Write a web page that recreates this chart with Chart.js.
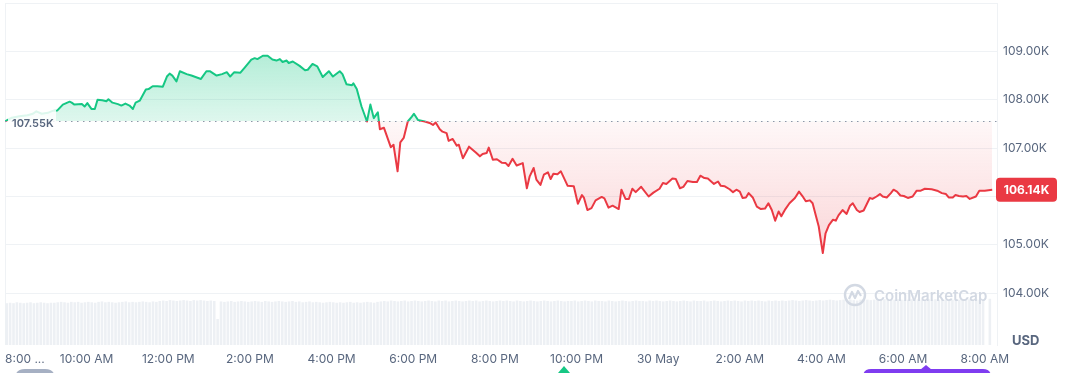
<!DOCTYPE html>
<html>
<head>
<meta charset="utf-8">
<script src="https://cdn.jsdelivr.net/npm/chart.js@4.4.1/dist/chart.umd.min.js"></script>
<style>
  html, body { margin: 0; padding: 0; background: #fff; }
  #wrap { position: relative; width: 1069px; height: 373px; }
</style>
</head>
<body>
<div id="wrap"><canvas id="c"></canvas></div>
<script>
// ---- data (minutes since 8:00 AM, 29 May) ----
const BASE = 107553;   // opening price of the 24h window (dotted line)
const LAST = 106140;   // latest price

const TIMES = [
  0,10,21,33,41,46,54,63,70,77,
  85,95,98,102,113,117,121,127,132,136,
  143,149,152,158,166,171,177,183,188,192,
  198,207,211,217,224,232,238,242,246,252,
  257,267,274,282,288,296,301,311,319,326,
  331,337,346,352,362,367,371,379,386,393,
  399,404,408,414,417,423,433,441,445,452,
  459,467,476,482,492,496,502,510,512,517,
  524,532,537,542,548,551,557,567,571,577,
  581,586,592,598,601,607,617,624,629,633,
  639,643,649,652,658,664,667,673,682,692,
  698,702,708,711,717,723,730,736,740,746,
  752,761,767,771,777,781,787,792,798,802,
  806,812,817,827,836,842,848,851,856,862,
  868,877,881,887,893,902,906,912,917,922,
  927,935,946,953,962,967,972,981,986,992,
  997,1003,1011,1017,1022,1028,1033,1042,1048,1052,
  1058,1065,1070,1075,1080,1084,1089,1093,1099,1105,
  1111,1117,1122,1127,1132,1137,1141,1147,1153,1161,
  1167,1172,1177,1183,1187,1192,1196,1199,1202,1206,
  1211,1217,1221,1225,1231,1237,1242,1246,1252,1256,
  1262,1271,1275,1281,1286,1290,1296,1302,1306,1311,
  1316,1321,1327,1334,1340,1346,1352,1362,1370,1377,
  1383,1387,1393,1397,1402,1408,1413,1418,1427,1432,
  1440,1451
];

const PRICES = [
  107553,107630,107660,107680,107710,107760,107710,107730,107770,107780,
  107900,107960,107940,107900,107910,107860,107930,107810,107810,108000,
  107990,107970,108010,107940,107910,107880,107920,107880,107810,107940,
  107980,108210,108220,108280,108280,108270,108480,108540,108500,108380,
  108590,108530,108500,108460,108430,108590,108590,108500,108530,108570,
  108480,108570,108560,108660,108830,108860,108840,108910,108910,108830,
  108810,108840,108780,108810,108760,108790,108700,108610,108620,108740,
  108690,108470,108590,108480,108590,108530,108320,108300,108340,108220,
  107860,107550,107900,107620,107740,107390,107420,107020,107070,106520,
  107120,107210,107550,107650,107710,107580,107550,107520,107480,107530,
  107390,107340,107310,107150,107190,107050,107070,106790,107030,106910,
  106830,106880,106900,107010,106760,106770,106700,106690,106630,106780,
  106640,106690,106170,106410,106590,106350,106240,106450,106500,106360,
  106470,106460,106520,106220,106210,105850,106030,105970,105720,105760,
  105920,105990,105960,105770,105810,105740,106140,105950,105950,106160,
  106090,106200,106000,106080,106160,106280,106260,106370,106360,106170,
  106200,106320,106300,106300,106430,106380,106370,106260,106310,106220,
  106210,106150,106090,106140,106100,105970,105980,106070,105980,105790,
  105740,105750,105860,105720,105500,105690,105590,105740,105860,105970,
  106100,106010,105900,105920,105860,105590,105380,105100,104830,105240,
  105410,105520,105500,105610,105720,105640,105810,105860,105720,105680,
  105710,105970,105950,106000,106050,106000,105980,106070,106140,106100,
  106020,106010,105970,106000,106120,106120,106160,106150,106120,106070,
  106050,105980,105980,106030,106010,106000,106010,105950,106000,106120,
  106120,106140
];

// 5-minute volume bars (relative units), first bar centred at 2.5 min
const VOL_START = 2.5;
const VOL_STEP = 5;
const VOLUMES = [
  95,96,95,97,96,95,96,97,95,96,97,96,95,96,96,97,98,97,96,98,
  97,98,96,97,98,97,96,98,99,97,98,97,96,97,98,99,97,98,97,98,
  99,98,97,99,98,100,101,100,102,101,100,101,102,101,100,102,101,102,101,100,
  101,100,59,99,98,99,100,98,99,100,99,98,99,100,99,98,100,99,98,99,
  100,99,98,99,100,98,99,97,98,99,97,98,97,96,97,98,97,96,97,96,
  97,98,96,97,96,97,98,97,96,98,99,100,99,101,100,99,100,101,99,100,
  101,100,99,100,101,100,99,101,100,101,99,100,101,100,99,100,101,100,101,99,
  100,101,100,99,100,101,100,101,100,99,101,100,99,100,101,100,99,100,101,100,
  99,100,101,100,99,100,100,101,99,100,101,100,99,101,100,100,99,101,100,99,
  100,101,100,99,100,101,100,100,99,101,100,101,100,99,100,101,100,99,100,101,
  100,99,101,100,100,101,99,100,101,100,99,100,101,100,101,100,99,101,100,101,
  100,101,100,99,101,100,101,100,101,100,101,102,101,100,101,102,101,100,101,102,
  101,102,103,102,101,102,103,102,103,102,101,103,102,103,102,103,102,103,104,103,
  102,103,104,103,102,103,104,103,104,103,102,104,103,104,103,104,103,104,103,104,
  103,104,103,104,103,104,103,104,0,105
];

const X_TICKS = [0,120,240,360,480,600,720,840,960,1080,1200,1320,1440];
const X_LABELS = ['8:00 ...','10:00 AM','12:00 PM','2:00 PM','4:00 PM','6:00 PM','8:00 PM',
                  '10:00 PM','30 May','2:00 AM','4:00 AM','6:00 AM','8:00 AM'];
const Y_TICKS = [104000,105000,106000,107000,108000,109000,110000];
const Y_LABELS = ['104.00K','105.00K','106.00K','107.00K','108.00K','109.00K',''];

const X_MIN = 0, X_MAX = 1458;
const Y_MIN = 102930, Y_MAX = 110000;

// ---- styles ----
const GREEN = '#16c784';
const RED = '#ea3943';
const GRID = '#eff2f5';
const TEXT = '#58667e';
const FONT = 'Inter, "Noto Sans", sans-serif';

Chart.defaults.font.family = FONT;
Chart.defaults.font.size = 12;
Chart.defaults.color = TEXT;

function lineGrad(chart) {
  const {ctx, chartArea: a, scales} = chart;
  if (!a) return GREEN;
  const by = scales.y.getPixelForValue(BASE);
  const f = Math.min(1, Math.max(0, (by - a.top) / (a.bottom - a.top)));
  const g = ctx.createLinearGradient(0, a.top, 0, a.bottom);
  g.addColorStop(0, GREEN); g.addColorStop(f, GREEN);
  g.addColorStop(f, RED); g.addColorStop(1, RED);
  return g;
}
function fillOpt(chart) {
  const {ctx, chartArea: a, scales} = chart;
  if (!a) return {target: {value: BASE}, above: 'rgba(22,199,132,0.25)', below: 'rgba(234,57,67,0.12)'};
  const by = scales.y.getPixelForValue(BASE);
  const gu = ctx.createLinearGradient(0, a.top, 0, by);
  gu.addColorStop(0, 'rgba(22,199,132,0.46)');
  gu.addColorStop(1, 'rgba(22,199,132,0.14)');
  const gd = ctx.createLinearGradient(0, by, 0, a.bottom);
  gd.addColorStop(0, 'rgba(234,57,67,0.04)');
  gd.addColorStop(1, 'rgba(234,57,67,0.32)');
  return {target: {value: BASE}, above: gu, below: gd};
}

function rr(ctx, x, y, w, h, r) {
  ctx.beginPath();
  ctx.moveTo(x + r, y);
  ctx.lineTo(x + w - r, y); ctx.quadraticCurveTo(x + w, y, x + w, y + r);
  ctx.lineTo(x + w, y + h - r); ctx.quadraticCurveTo(x + w, y + h, x + w - r, y + h);
  ctx.lineTo(x + r, y + h); ctx.quadraticCurveTo(x, y + h, x, y + h - r);
  ctx.lineTo(x, y + r); ctx.quadraticCurveTo(x, y, x + r, y);
  ctx.closePath();
}

const overlay = {
  id: 'overlay',
  afterDatasetsDraw(chart) {
    const {ctx, chartArea: a, scales: {y}} = chart;
    ctx.save();
    // dotted base line
    const by = Math.round(y.getPixelForValue(BASE)) + 0.5;
    ctx.strokeStyle = '#8d97a8';
    ctx.lineWidth = 1;
    ctx.setLineDash([1.5, 4.5]);
    ctx.beginPath(); ctx.moveTo(a.left, by); ctx.lineTo(a.right, by); ctx.stroke();
    ctx.setLineDash([]);
    // watermark
    const wx = a.right - 142, wy = a.bottom - 50;
    ctx.strokeStyle = '#d3d9e3';
    ctx.lineWidth = 2.4;
    ctx.beginPath(); ctx.arc(wx, wy, 10, 0, Math.PI * 2); ctx.stroke();
    ctx.lineWidth = 2.2;
    ctx.lineJoin = 'round';
    ctx.beginPath();
    ctx.moveTo(wx - 6, wy + 4);
    ctx.lineTo(wx - 3, wy - 3);
    ctx.lineTo(wx, wy + 3);
    ctx.lineTo(wx + 3, wy - 4);
    ctx.lineTo(wx + 6, wy + 1);
    ctx.stroke();
    ctx.fillStyle = '#d3d9e3';
    ctx.font = '600 15px ' + FONT;
    ctx.textAlign = 'left';
    ctx.textBaseline = 'middle';
    ctx.fillText('CoinMarketCap', wx + 19, wy + 1);
    // base price label
    ctx.fillStyle = 'rgba(255,255,255,0.85)';
    ctx.fillRect(a.left + 3, by - 12, 48, 24);
    ctx.fillStyle = TEXT;
    ctx.font = '600 11px ' + FONT;
    ctx.fillText((BASE / 1000).toFixed(2) + 'K', a.left + 7, by + 2);
    ctx.restore();
  },
  afterDraw(chart) {
    const {ctx, chartArea: a, scales: {y}, height} = chart;
    ctx.save();
    // current price tag
    const py = y.getPixelForValue(LAST);
    ctx.fillStyle = RED;
    rr(ctx, a.right - 1, py - 12, 61, 24, 4); ctx.fill();
    ctx.fillStyle = '#fff';
    ctx.font = 'bold 12px ' + FONT;
    ctx.textAlign = 'center';
    ctx.textBaseline = 'middle';
    ctx.fillText((LAST / 1000).toFixed(2) + 'K', a.right + 29.5, py + 0.5);
    // currency
    ctx.fillStyle = TEXT;
    ctx.font = 'bold 13px ' + FONT;
    ctx.textAlign = 'left';
    ctx.fillText('USD', a.right + 15, a.bottom - 4);
    // toolbar hints at bottom edge
    ctx.fillStyle = '#a6b0c3';
    rr(ctx, 15, height - 4, 40, 20, 10); ctx.fill();
    ctx.fillStyle = GREEN;
    ctx.beginPath(); ctx.moveTo(558, height); ctx.lineTo(564, height - 7); ctx.lineTo(570, height); ctx.closePath(); ctx.fill();
    ctx.fillStyle = '#7f3cf0';
    rr(ctx, 863, height - 4, 128, 20, 8); ctx.fill();
    ctx.beginPath(); ctx.moveTo(920, height - 3); ctx.lineTo(926, height - 8); ctx.lineTo(932, height - 3); ctx.closePath(); ctx.fill();
    ctx.restore();
  }
};

const priceData = TIMES.map((t, i) => ({x: t, y: PRICES[i]}));
const volData = VOLUMES.map((v, i) => ({x: VOL_START + i * VOL_STEP, y: v}));

new Chart(document.getElementById('c'), {
  data: {
    datasets: [
      {
        type: 'line',
        data: priceData,
        yAxisID: 'y',
        borderWidth: 2,
        pointRadius: 0,
        tension: 0,
        borderJoinStyle: 'round',
        borderColor: (ctx) => lineGrad(ctx.chart),
        fill: (ctx) => fillOpt(ctx.chart),
        order: 0
      },
      {
        type: 'bar',
        data: volData,
        yAxisID: 'v',
        backgroundColor: '#edf0f4',
        categoryPercentage: 0.8,
        barPercentage: 0.95,
        order: 1
      }
    ]
  },
  options: {
    responsive: true,
    maintainAspectRatio: false,
    animation: false,
    events: [],
    layout: { padding: { left: 5, top: 3, right: 0, bottom: 0 }, autoPadding: false },
    plugins: { legend: { display: false }, tooltip: { enabled: false } },
    scales: {
      x: {
        type: 'linear',
        min: X_MIN, max: X_MAX,
        offset: false,
        grid: {
          offset: false,
          drawTicks: false,
          color: (ctx) => ctx.index === 0 ? GRID : 'rgba(0,0,0,0)'
        },
        border: { display: false },
        afterBuildTicks: (s) => { s.ticks = X_TICKS.concat([X_MAX]).map(v => ({value: v})); },
        afterFit: (s) => { s.height = 28; s.paddingLeft = 0; s.paddingRight = 0; },
        ticks: {
          autoSkip: false,
          maxRotation: 0,
          align: 'inner',
          padding: 7,
          color: TEXT,
          font: { size: 12 },
          callback: (v, i) => (i < X_LABELS.length ? X_LABELS[i] : '')
        }
      },
      y: {
        type: 'linear',
        position: 'right',
        min: Y_MIN, max: Y_MAX,
        grid: { color: GRID, drawTicks: false },
        border: { display: true, color: GRID },
        afterBuildTicks: (s) => { s.ticks = Y_TICKS.map(v => ({value: v})); },
        afterFit: (s) => { s.width = 72; s.paddingTop = 0; s.paddingBottom = 0; },
        ticks: {
          padding: 6,
          color: TEXT,
          font: { size: 12 },
          callback: (v, i) => Y_LABELS[i]
        }
      },
      v: {
        type: 'linear',
        display: false,
        min: 0, max: 777
      }
    }
  },
  plugins: [overlay]
});
</script>
</body>
</html>
